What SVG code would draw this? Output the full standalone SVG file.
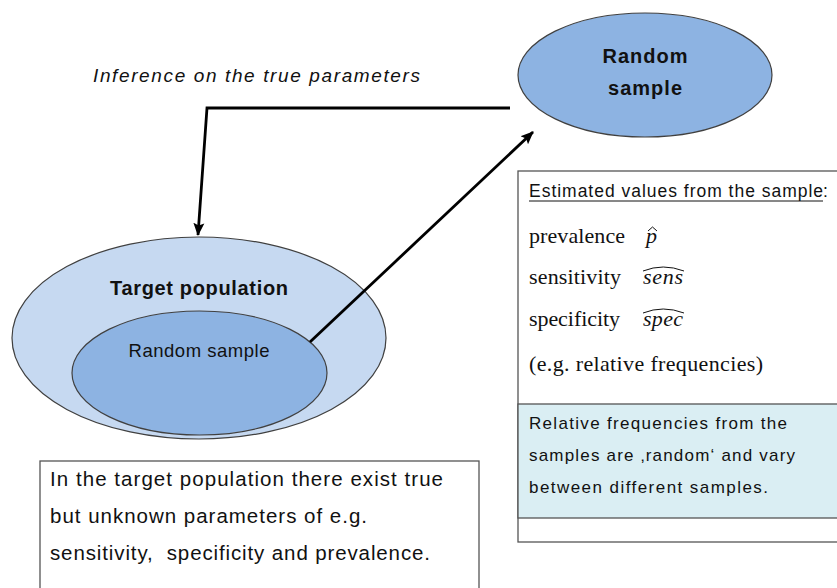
<svg xmlns="http://www.w3.org/2000/svg" width="837" height="588" viewBox="0 0 837 588">
  <style>
    .sans { font-family: "Liberation Sans", Arial, sans-serif; fill: #111; }
    .serif { font-family: "Liberation Serif", "Times New Roman", serif; fill: #111; font-size: 22px; }
    .bold { font-weight: bold; }
    .ell { stroke: #404040; stroke-width: 1.2; }
    .box { fill: #fff; stroke: #555; stroke-width: 1.3; }
    .conn { fill: none; stroke: #000; stroke-width: 2.8; }
    .hat { fill: none; stroke: #111; stroke-width: 1; }
  </style>
  <defs>
    <marker id="arrow" markerUnits="userSpaceOnUse" markerWidth="13" markerHeight="12" viewBox="0 0 13 12" refX="12" refY="6" orient="auto">
      <path d="M0,0.5 L13,6 L0,11.5 L2.5,6 z" fill="#000"/>
    </marker>
  </defs>

  <rect width="837" height="588" fill="#fff"/>

  <!-- population with the sample drawn from it -->
  <g id="target-population">
    <ellipse class="ell" cx="199" cy="338" rx="187" ry="101" fill="#C6D9F1"/>
    <text class="sans bold" x="199" y="295" font-size="20" text-anchor="middle" textLength="178">Target population</text>
  </g>
  <g id="inner-sample">
    <ellipse class="ell" cx="199.5" cy="373" rx="127.5" ry="62" fill="#8DB3E2"/>
    <text class="sans" x="199" y="357" font-size="18.5" text-anchor="middle" textLength="141" fill="#222">Random sample</text>
  </g>

  <!-- drawn sample -->
  <g id="random-sample">
    <ellipse class="ell" cx="645" cy="75" rx="127" ry="62" fill="#8DB3E2"/>
    <text class="sans bold" x="645" y="63" font-size="20" text-anchor="middle" textLength="85">Random</text>
    <text class="sans bold" x="645" y="95" font-size="20" text-anchor="middle" textLength="74">sample</text>
  </g>

  <g id="inference-label">
    <text class="sans" x="93" y="82" font-size="19" font-style="italic" textLength="327">Inference on the true parameters</text>
  </g>

  <!-- estimates box with shaded note -->
  <g id="estimates">
    <rect class="box" x="518" y="171" width="330" height="371"/>
    <rect x="518" y="404" width="330" height="114" fill="#DAEEF3" stroke="#555" stroke-width="1.3"/>
    <text class="sans" x="529" y="197" font-size="17.5" textLength="294">Estimated values from the sample</text>
    <line x1="529" y1="201" x2="823" y2="201" stroke="#111" stroke-width="1"/>
    <text class="sans" x="823" y="197" font-size="17.5">:</text>

    <text class="serif" x="529" y="243" textLength="96">prevalence</text>
    <text class="serif" x="646" y="243" font-style="italic">p</text>
    <path class="hat" d="M648,231 L652.5,227 L657,231"/>

    <text class="serif" x="529" y="284" textLength="92">sensitivity</text>
    <text class="serif" x="643" y="284" font-style="italic" textLength="40">sens</text>
    <path class="hat" d="M643,271 Q663,263 684,271"/>

    <text class="serif" x="529" y="326" textLength="91">specificity</text>
    <text class="serif" x="643" y="326" font-style="italic" textLength="40">spec</text>
    <path class="hat" d="M643,313 Q663,305 684,313"/>

    <text class="serif" x="529" y="371" textLength="234">(e.g. relative frequencies)</text>

    <text class="sans" x="529" y="429" font-size="17" fill="#333" textLength="258">Relative frequencies from the</text>
    <text class="sans" x="529" y="461" font-size="17" fill="#333" textLength="266">samples are ‚random‘ and vary</text>
    <text class="sans" x="529" y="493" font-size="17" fill="#333" textLength="239">between different samples.</text>
  </g>

  <!-- true parameters note -->
  <g id="true-parameters">
    <rect class="box" x="40" y="461" width="439" height="140"/>
    <text class="sans" x="50" y="486" font-size="20.5" textLength="393">In the target population there exist true</text>
    <text class="sans" x="50" y="523" font-size="20.5" textLength="317">but unknown parameters of e.g.</text>
    <text class="sans" x="50" y="560" font-size="20.5" textLength="380" xml:space="preserve">sensitivity,  specificity and prevalence.</text>
  </g>

  <g id="connectors">
    <path class="conn" d="M510,108 L207,108 L198,235" marker-end="url(#arrow)"/>
    <path class="conn" d="M310,342 L533,132" marker-end="url(#arrow)"/>
  </g>
</svg>
